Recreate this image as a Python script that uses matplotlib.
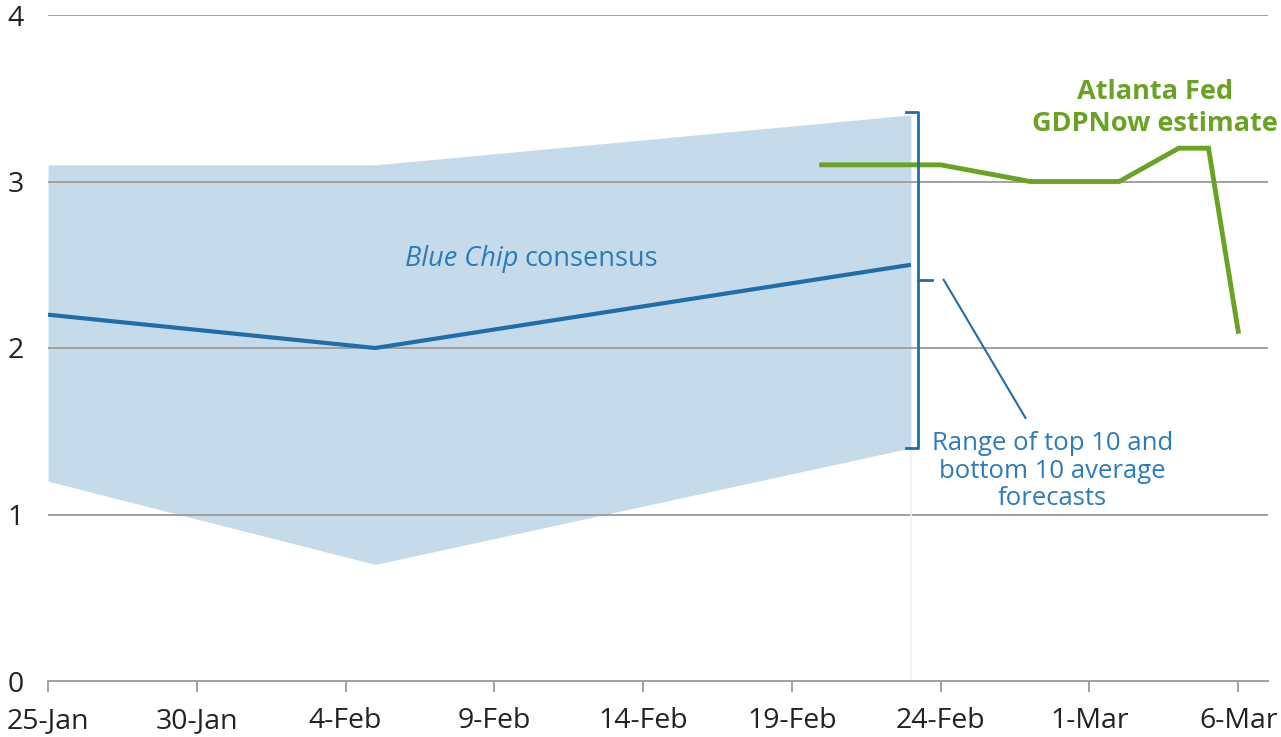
import matplotlib
matplotlib.use("Agg")
import matplotlib.pyplot as plt
import matplotlib.dates as mdates
from datetime import datetime, timedelta

# Blue Chip consensus and range of top 10 / bottom 10 averages
bc_dates = ["2025-01-25", "2025-02-05", "2025-02-23"]
bc_consensus = [2.2, 2.0, 2.5]
bc_top10 = [3.1, 3.1, 3.4]
bc_bottom10 = [1.2, 0.7, 1.4]

# Atlanta Fed GDPNow
gdp_dates = ["2025-02-20", "2025-02-24", "2025-02-27", "2025-03-02",
             "2025-03-04", "2025-03-05", "2025-03-06"]
gdp_values = [3.1, 3.1, 3.0, 3.0, 3.2, 3.2, 2.1]

tick_dates = ["2025-01-25", "2025-01-30", "2025-02-04", "2025-02-09",
              "2025-02-14", "2025-02-19", "2025-02-24", "2025-03-01", "2025-03-06"]
y_ticks = [0, 1, 2, 3, 4]

to_dt = lambda lst: [datetime.strptime(d, "%Y-%m-%d") for d in lst]
bc_x = to_dt(bc_dates)
gdp_x = to_dt(gdp_dates)
tick_x = to_dt(tick_dates)

BLUE = "#1f6eaa"
TXT_BLUE = "#2b7bbb"
BAND = "#c6dbe9"
GREEN = "#6aa323"
GRID = "#a0a0a0"

plt.rcParams["font.family"] = ["Open Sans", "DejaVu Sans"]

fig = plt.figure(figsize=(12.81, 7.37), dpi=100)
ax = fig.add_axes([48 / 1281, 56 / 737, 1220 / 1281, 666 / 737])

ax.set_xlim(datetime(2025, 1, 25), datetime(2025, 1, 25) + timedelta(days=41))
ax.set_ylim(0, 4)

# range band (gridlines drawn on top of it)
ax.fill_between(bc_x, bc_bottom10, bc_top10, color=BAND, lw=0, zorder=1)
for y in y_ticks[1:]:
    ax.axhline(y, color=GRID, lw=1.4, zorder=2)
# faint vertical line at end of band
ax.plot([bc_x[-1], bc_x[-1]], [0, bc_bottom10[-1]], color="#eef2f5", lw=1.2, zorder=2)

ax.plot(bc_x, bc_consensus, color=BLUE, lw=3, zorder=3, solid_capstyle="butt")
ax.plot(gdp_x, gdp_values, color=GREEN, lw=3.5, zorder=3, solid_joinstyle="miter")

# bracket
d0 = mdates.date2num(bc_x[-1])
bx = d0 + 0.25
ax.plot([d0 - 0.15, bx, bx, d0 - 0.15], [3.42, 3.42, 1.40, 1.40],
        color=BLUE, lw=2, zorder=4)
mid = (3.42 + 1.40) / 2
ax.plot([bx, bx + 0.45], [mid, mid], color=BLUE, lw=2, zorder=4)
ax.plot([d0 + 1.1, d0 + 3.85], [mid, 1.58], color=BLUE, lw=1.5, zorder=4)

ax.text(d0 + 4.75, 1.26, "Range of top 10 and\nbottom 10 average\nforecasts",
        color=TXT_BLUE, fontsize=18.5, ha="center", va="center", linespacing=1.12)

t1 = ax.text(mdates.date2num(datetime(2025, 2, 6)), 2.535, "Blue Chip",
             color=TXT_BLUE, fontsize=19.5, style="italic", ha="left", va="center")
ax.annotate("consensus", xy=(1, 0.5), xycoords=t1, xytext=(4, 0),
            textcoords="offset points", color=TXT_BLUE, fontsize=19.5,
            ha="left", va="center")

ax.text(mdates.date2num(datetime(2025, 3, 3)) + 0.2, 3.44, "Atlanta Fed\nGDPNow estimate",
        color=GREEN, fontsize=19.5, fontweight="bold", ha="center", va="center",
        linespacing=1.3)

# axes styling
for s in ["top", "right", "left"]:
    ax.spines[s].set_visible(False)
ax.spines["bottom"].set_color(GRID)
ax.spines["bottom"].set_linewidth(1.4)
ax.spines["bottom"].set_zorder(2)

ax.set_xticks(tick_x)
ax.xaxis.set_major_formatter(mdates.DateFormatter("%-d-%b"))
ax.set_yticks(y_ticks)
ax.tick_params(axis="x", length=8, width=1.4, color=GRID, labelsize=20.5, pad=11,
               labelcolor="#222222")
ax.tick_params(axis="y", length=0, labelsize=20.5, pad=29, labelcolor="#222222")
for lab in ax.get_yticklabels():
    lab.set_horizontalalignment("left")

fig.savefig("out.png", dpi=100)
